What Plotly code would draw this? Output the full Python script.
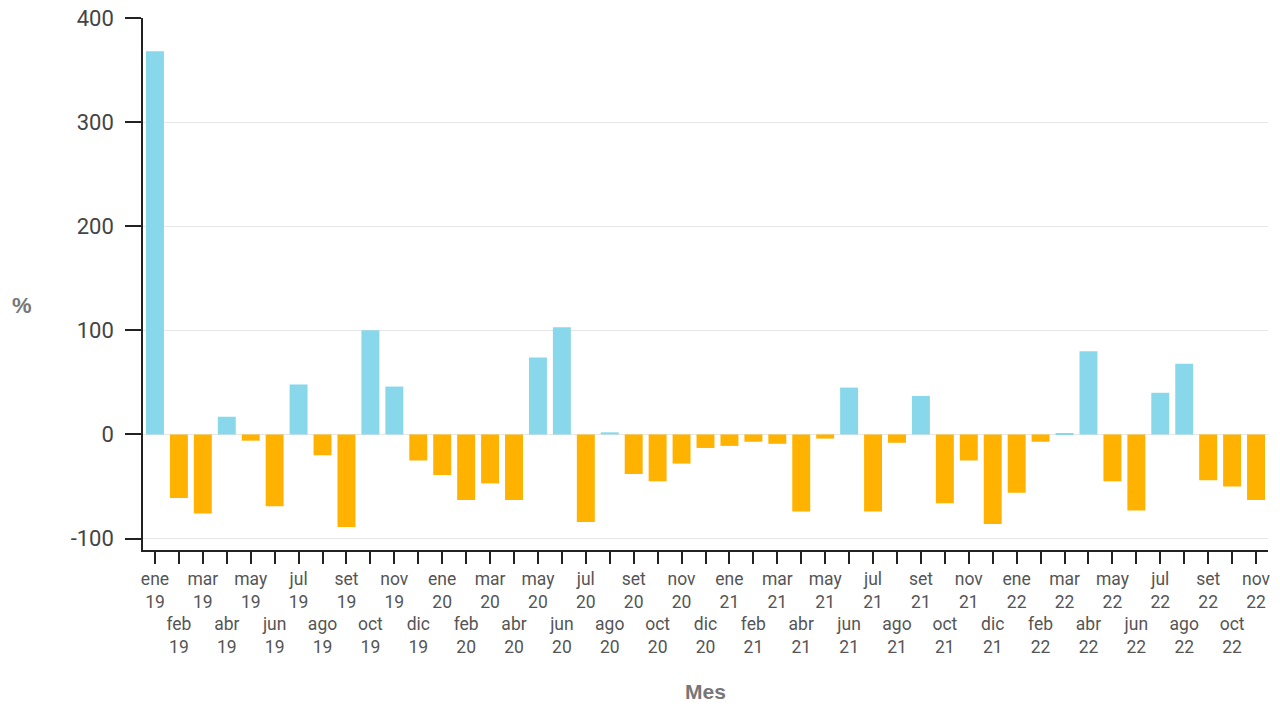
import plotly.graph_objects as go

months = ["ene", "feb", "mar", "abr", "may", "jun", "jul", "ago", "set", "oct", "nov", "dic"]
years = ["19", "20", "21", "22"]

categories = [f"{m} {y}" for y in years for m in months][:47]

values = [
    368, -61, -76, 17, -6, -69, 48, -20, -89, 100, 46, -25,
    -39, -63, -47, -63, 74, 103, -84, 2, -38, -45, -28, -13,
    -11, -7, -9, -74, -4, 45, -74, -8, 37, -66, -25, -86,
    -56, -7, 1, 80, -45, -73, 40, 68, -44, -50, -63,
]

ytick_vals = [-100, 0, 100, 200, 300, 400]
ytick_text = ["-100", "0", "100", "200", "300", "400"]

POS_COLOR = "#88D7EA"
NEG_COLOR = "#FFB300"

colors = [POS_COLOR if v >= 0 else NEG_COLOR for v in values]

ticktext = []
for i, c in enumerate(categories):
    m, y = c.split(" ")
    if i % 2 == 0:
        ticktext.append(f"{m}<br>{y}")
    else:
        ticktext.append(f"\u00a0<br>\u00a0<br>{m}<br>{y}")

fig = go.Figure()
fig.add_trace(go.Bar(
    x=list(range(len(categories))),
    y=values,
    marker=dict(color=colors, line=dict(width=0)),
    hovertext=categories,
    showlegend=False,
))

fig.update_layout(
    width=1280,
    height=707,
    margin=dict(l=143, r=12, t=18, b=157),
    paper_bgcolor="white",
    plot_bgcolor="white",
    bargap=0.25,
    font=dict(family="Roboto, Arial, sans-serif", color="#555555"),
    xaxis=dict(
        automargin=False,
        tickmode="array",
        tickvals=list(range(len(categories))),
        ticktext=ticktext,
        range=[-0.5, len(categories) - 0.5],
        showgrid=False,
        zeroline=False,
        showline=True,
        linecolor="#222222",
        linewidth=1.5,
        ticks="outside",
        ticklen=12,
        tickwidth=1.5,
        tickcolor="#222222",
        tickangle=0,
        tickfont=dict(size=17.5, color="#555555", family="Roboto, sans-serif"),
        title=dict(text="<b>Mes</b>", font=dict(size=21, color="#777777", family="Liberation Sans, Arial, sans-serif"), standoff=28),
    ),
    yaxis=dict(
        automargin=False,
        range=[-111, 400],
        tickmode="array",
        tickvals=ytick_vals,
        ticktext=ytick_text,
        showgrid=True,
        gridcolor="#e6e6e6",
        gridwidth=1,
        zeroline=True,
        zerolinecolor="#e6e6e6",
        zerolinewidth=1,
        showline=True,
        linecolor="#222222",
        linewidth=1.5,
        ticks="outside",
        ticklen=16,
        tickwidth=1.5,
        tickcolor="#222222",
        ticklabelstandoff=7,
        tickfont=dict(size=22, color="#444444", family="Roboto, sans-serif"),
    ),
    annotations=[dict(
        text="<b>%</b>",
        xref="paper", yref="paper",
        x=-0.1076, y=0.46,
        xanchor="center", yanchor="middle",
        showarrow=False,
        font=dict(size=22, color="#777777", family="Liberation Sans, Arial, sans-serif"),
    )],
)

fig.write_html(
    "out.html",
    config={"displayModeBar": False},
    post_script="document.body.style.margin='0';",
)
